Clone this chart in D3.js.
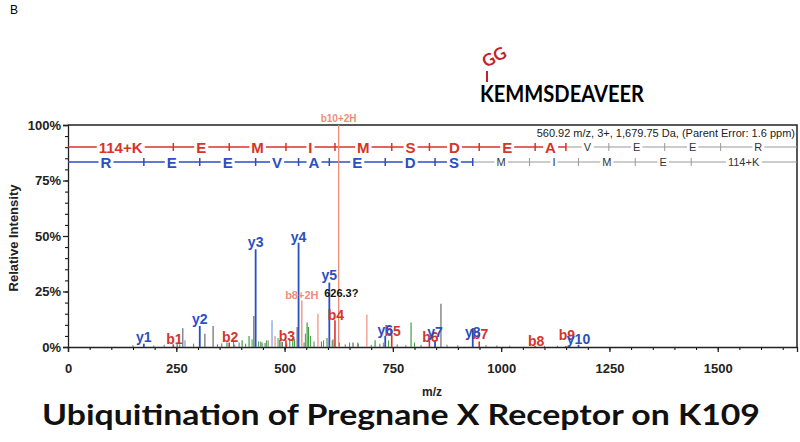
<!DOCTYPE html>
<html><head><meta charset="utf-8">
<script src="https://cdn.jsdelivr.net/npm/d3@7/dist/d3.min.js"></script>
<style>body{margin:0;background:#fff}svg{display:block}</style>
</head><body><svg id="c" width="800" height="442"></svg>
<script>
// ---------- DATA ----------
const xTicks = [0, 250, 500, 750, 1000, 1250, 1500];
const yTicks = [0, 25, 50, 75, 100];
// b ions: label, m/z, intensity %, label level %
const bLabels = ["b1","b2","b3","b4","b5","b6","b7","b8","b9"];
const bMz     = [243.1, 372.2, 503.2, 616.3, 747.4, 834.4, 949.4, 1078.5, 1149.5];
const bInt    = [1.2, 2, 3, 12, 5.5, 3, 2.5, 0.5, 0.5];
const bLab    = [1.4, 2.3, 2.7, 12.2, 5, 2.3, 3.6, 0.5, 3.2];
// y ions
const yLabels = ["y1","y2","y3","y4","y5","y6","y7","y8","y10"];
const yMz     = [175.1, 304.2, 433.2, 532.3, 603.3, 732.4, 847.4, 934.4, 1178.6];
const yInt    = [1.5, 9.5, 44, 47, 29, 5, 3, 8.5, 1];
const yLab    = [2.3, 10.4, 45, 47.3, 30, 5.4, 4.5, 4.5, 1.4];
// doubly charged b ions (salmon)
const b2Labels = ["b8+2H", "b10+2H"];
const b2Mz     = [539.8, 624.8];
const b2Int    = [21, 100];
// unlabeled peaks: m/z, intensity, kind
const otherMz  = [265, 270, 316, 335, 367, 402, 418, 429, 448, 471, 478, 489, 519, 529, 552, 555, 577, 598, 658, 690, 709, 792, 861, 252, 626.3];
const otherInt = [8.5, 3, 6, 9.5, 2, 3, 5, 14, 2, 12, 5, 3, 4, 9, 11, 9, 15, 4, 2, 14.5, 3, 11, 19.5, 1.5, 2];
const otherKind= ["grey","lblue","grey","grey","green","green","green","grey","green","lblue","salmon","grey","green","grey","green","green","salmon","green","grey","salmon","green","green","grey","grey","grey"];
// small baseline peaks
const noiseMz  = [150,198,222,258,290,345,355,385,395,410,445,455,462,495,505,512,545,568,585,610,640,670,700,720,760,780,815,875,900,965,990,1020,1100,1130,382,425,440,458,485,492,523,548,560,590,612,650,669,728,740,800];
const noiseInt = [0.8,0.7,1,1.2,1.5,1.2,1.6,1.1,2,1.5,2.5,1.8,3,2.2,1.5,3,2,2.5,2.5,3,1.2,1.5,1,1.5,1.2,0.8,1,1,0.8,0.8,0.7,0.6,0.5,0.5,2.5,3.5,2.5,3,4,2.5,3.5,6,5,3,3.5,2,2,2,3,2];
const noiseKind= ["grey","grey","grey","grey","grey","grey","grey","grey","grey","grey","grey","grey","grey","grey","grey","grey","grey","grey","grey","grey","grey","grey","grey","grey","grey","grey","grey","grey","grey","grey","grey","grey","grey","grey","green","green","green","green","green","green","green","green","green","green","green","green","green","green","green","green"];
// sequence ladders (boundaries in m/z)
const bLadder   = ["114+K","E","M","I","M","S","D","E","A","V","E","E","R"];
const bLadderMz = [0, 243.1, 372.2, 503.2, 616.3, 747.4, 834.4, 949.4, 1078.5, 1149.5, 1248.6, 1377.6, 1506.7, 1680.8];
const bCovered  = 9;
const yLadder   = ["R","E","E","V","A","E","D","S","M","I","M","E","114+K"];
const yLadderMz = [0, 175.1, 304.2, 433.2, 532.3, 603.3, 732.4, 847.4, 934.4, 1065.5, 1178.6, 1309.6, 1438.7, 1680.8];
const yCovered  = 8;
const infoText = "560.92 m/z, 3+, 1,679.75 Da,  (Parent Error: 1.6 ppm)";
const peptide = "KEMMSDEAVEER";
const title = "Ubiquitination of Pregnane X Receptor on K109";

// ---------- STYLE ----------
const C = {red:"#d5342a", blue:"#2a4fc2", salmon:"#ef8c78", green:"#3f9f3f", grey:"#6b6b6b", lblue:"#7b9be0", ladderGrey:"#999"};
const AX = "'Liberation Sans', Arial, sans-serif";

const svg = d3.select("#c");
const x = d3.scaleLinear().domain([0, 1683]).range([68, 797]);
const y = d3.scaleLinear().domain([0, 100]).range([347, 125]);

svg.append("text").attr("x", 10).attr("y", 14).attr("font-family", AX).attr("font-size", 12).text("B");

// peptide with modification
svg.append("text").attr("x", 480).attr("y", 102).attr("font-family", "Lato, 'Open Sans', sans-serif")
  .attr("font-weight", 700).attr("font-size", 22).attr("textLength", 164).attr("lengthAdjust", "spacingAndGlyphs").text(peptide);
svg.append("line").attr("x1", 487).attr("x2", 487).attr("y1", 71).attr("y2", 82).attr("stroke", "#c8202a").attr("stroke-width", 2);
svg.append("text").attr("transform", "translate(486,68) rotate(-28)").attr("font-family", "Lato, 'Open Sans', sans-serif")
  .attr("font-weight", 700).attr("font-size", 17).attr("fill", "#c8202a").text("GG");

// axes
const yMinor = d3.range(0, 101, 5);
svg.append("g").attr("transform", "translate(68,0)")
  .call(d3.axisLeft(y).tickValues(yMinor).tickSize(3).tickFormat(""))
  .call(g => g.select(".domain").remove());
svg.append("g").attr("transform", "translate(68,0)")
  .call(d3.axisLeft(y).tickValues(yTicks).tickSize(5).tickPadding(2).tickFormat(d => d + "%"))
  .call(g => g.selectAll("text").attr("font-family", AX).attr("font-weight", 700).attr("font-size", 13).attr("fill", "#222"))
  .call(g => g.selectAll("path,line").attr("stroke", "#222").attr("stroke-width", 1.3));
const xMinor = d3.range(0, 1683, 50);
svg.append("g").attr("transform", "translate(0,347)")
  .call(d3.axisBottom(x).tickValues(xMinor).tickSize(3).tickFormat(""))
  .call(g => g.select(".domain").remove());
svg.append("g").attr("transform", "translate(0,347)")
  .call(d3.axisBottom(x).tickValues(xTicks).tickSize(5).tickPadding(12).tickFormat(d3.format("d")))
  .call(g => g.selectAll("text").attr("font-family", AX).attr("font-weight", 700).attr("font-size", 13).attr("fill", "#222"))
  .call(g => g.selectAll("path,line").attr("stroke", "#222").attr("stroke-width", 1.3));
// frame top/right
svg.append("path").attr("d", `M${x(0)},${y(100)}H${x(1683)}V${y(0)}`).attr("fill", "none").attr("stroke", "#222").attr("stroke-width", 1.5);

svg.append("text").attr("transform", "translate(18,238) rotate(-90)").attr("text-anchor", "middle")
  .attr("font-family", AX).attr("font-weight", 700).attr("font-size", 13).attr("fill", "#222").text("Relative Intensity");
svg.append("text").attr("x", 432).attr("y", 396).attr("text-anchor", "middle")
  .attr("font-family", AX).attr("font-weight", 700).attr("font-size", 12).attr("fill", "#222").text("m/z");

// info text
svg.append("text").attr("x", 795).attr("y", 137).attr("text-anchor", "end")
  .attr("font-family", AX).attr("font-size", 11).attr("fill", "#222").text(infoText);

// ladders
function ladder(names, bounds, covered, color, yPos) {
  const g = svg.append("g");
  const endCov = bounds[covered];
  g.append("line").attr("x1", x(0)).attr("x2", x(endCov)).attr("y1", yPos).attr("y2", yPos).attr("stroke", color).attr("stroke-width", 1.5);
  g.append("line").attr("x1", x(endCov)).attr("x2", x(1683)).attr("y1", yPos).attr("y2", yPos).attr("stroke", C.ladderGrey).attr("stroke-width", 1);
  bounds.slice(1, -1).forEach((m, i) => {
    const cov = i < covered;
    g.append("line").attr("x1", x(m)).attr("x2", x(m)).attr("y1", yPos - 4).attr("y2", yPos + 4)
      .attr("stroke", cov ? color : C.ladderGrey).attr("stroke-width", cov ? 1.5 : 1);
  });
  names.forEach((n, i) => {
    const cov = i < covered;
    const cx = x((bounds[i] + bounds[i + 1]) / 2);
    const t = g.append("text").attr("x", cx).attr("y", yPos + (cov ? 5.5 : 4)).attr("text-anchor", "middle")
      .attr("font-family", AX).attr("font-weight", cov ? 700 : 400).attr("font-size", cov ? 15 : 11)
      .attr("fill", cov ? color : "#333").text(n);
    const bb = t.node().getBBox();
    g.insert("rect", () => t.node()).attr("x", bb.x - 2).attr("y", yPos - 3).attr("width", bb.width + 4).attr("height", 6).attr("fill", "#fff");
  });
}
ladder(bLadder, bLadderMz, bCovered, C.red, 147);
ladder(yLadder, yLadderMz, yCovered, C.blue, 162);

// peaks
const peaks = svg.append("g");
function drawPeaks(mz, it, colors, w) {
  peaks.selectAll(null).data(mz.map((m, i) => ({m, v: it[i], c: colors[i]}))).join("line")
    .attr("x1", d => x(d.m)).attr("x2", d => x(d.m)).attr("y1", y(0)).attr("y2", d => y(d.v))
    .attr("stroke", d => C[d.c] || d.c).attr("stroke-width", w);
}
drawPeaks(noiseMz, noiseInt, noiseKind, 1);
drawPeaks(otherMz, otherInt, otherKind, 1.2);
drawPeaks(b2Mz, b2Int, b2Mz.map(() => "salmon"), 1.3);
drawPeaks(bMz, bInt, bMz.map(() => "red"), 1.6);
drawPeaks(yMz, yInt, yMz.map(() => "blue"), 1.8);

// labels
const lab = svg.append("g").attr("font-family", AX).attr("font-weight", 700).attr("text-anchor", "middle");
bLabels.forEach((t, i) => lab.append("text").attr("x", x(bMz[i]) + 1).attr("y", y(bLab[i])).attr("font-size", 14).attr("fill", C.red).text(t));
yLabels.forEach((t, i) => lab.append("text").attr("x", x(yMz[i])).attr("y", y(yLab[i])).attr("font-size", 14).attr("fill", C.blue).text(t));
lab.append("text").attr("x", x(b2Mz[0])).attr("y", y(b2Int[0]) - 1).attr("font-size", 11).attr("fill", C.salmon).text(b2Labels[0]);
lab.append("text").attr("x", x(b2Mz[1])).attr("y", y(b2Int[1]) - 3).attr("font-size", 10).attr("fill", C.salmon).text(b2Labels[1]);
lab.append("text").attr("x", x(otherMz[otherMz.length - 1]) + 2).attr("y", y(22.5)).attr("font-size", 11).attr("fill", "#111").text("626.3?");

// title
svg.append("text").attr("x", 401).attr("y", 425).attr("text-anchor", "middle")
  .attr("font-family", "Lato, 'Open Sans', sans-serif").attr("font-weight", 700).attr("font-size", 29)
  .attr("textLength", 718).attr("lengthAdjust", "spacingAndGlyphs").attr("fill", "#111").text(title);
</script></body></html>
